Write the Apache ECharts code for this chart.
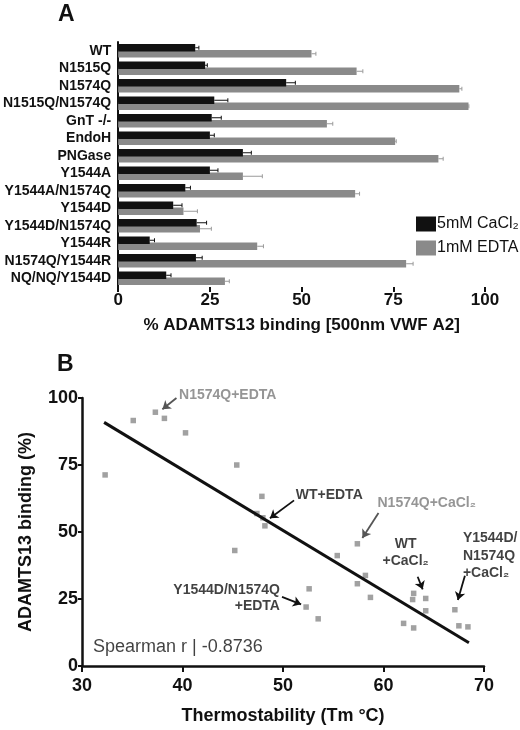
<html>

<head>
    <meta charset="utf-8">
    <title>ADAMTS13 binding</title>
    <script src="https://cdn.jsdelivr.net/npm/echarts@6/dist/echarts.min.js"></script>
    <style>
        body { margin: 0; background: #fff; }
    </style>
</head>

<body>
    <div id="main" style="width: 520px;height:730px;"></div>
    <script type="text/javascript">

        // panel A - binding per variant
        var categories = ['WT', 'N1515Q', 'N1574Q', 'N1515Q/N1574Q', 'GnT -/-', 'EndoH', 'PNGase', 'Y1544A',
            'Y1544A/N1574Q', 'Y1544D', 'Y1544D/N1574Q', 'Y1544R', 'N1574Q/Y1544R', 'NQ/NQ/Y1544D'];
        var cacl2Mean = [21.0, 23.7, 45.8, 26.2, 25.5, 25.0, 34.0, 25.0, 18.3, 15.0, 21.4, 8.6, 21.2, 13.1];
        var cacl2Upper = [22.0, 24.3, 48.3, 29.9, 28.1, 26.2, 36.3, 27.2, 19.7, 17.4, 24.1, 9.9, 22.9, 14.4];
        var edtaMean = [52.7, 65.0, 93.0, 95.5, 56.9, 75.5, 87.3, 34.0, 64.6, 17.8, 22.3, 37.9, 78.5, 29.1];
        var edtaUpper = [53.9, 66.7, 93.7, 95.6, 58.5, 75.8, 88.6, 39.3, 65.8, 21.6, 25.4, 39.6, 80.4, 30.3];
        var xTicksA = [0, 25, 50, 75, 100];

        // panel B - binding vs Tm
        var tmValues = [32.3, 35.1, 37.3, 38.2, 40.3, 45.4, 47.9, 47.4, 48.0, 48.2, 57.4, 45.2, 55.4, 58.2,
            57.4, 58.7, 52.6, 52.3, 53.5, 63.0, 62.9, 64.2, 64.2, 62.0, 63.0, 67.1, 67.5, 68.4];
        var bindValues = [71.3, 91.6, 94.7, 92.4, 87.0, 75.0, 63.3, 56.9, 55.3, 52.3, 45.6, 43.1, 41.2, 33.8,
            30.7, 25.6, 28.8, 22.0, 17.6, 27.1, 24.8, 25.2, 20.6, 15.9, 14.2, 21.0, 15.0, 14.6];
        var fitX = [32.2, 68.5];
        var fitY = [90.9, 8.7];

        // annotations: text, anchor (data units), colour, alignment
        var noteText = ['N1574Q+EDTA', 'WT+EDTA', 'N1574Q+CaCl₂', 'WT\n+CaCl₂', 'Y1544D/\nN1574Q\n+CaCl₂', 'Y1544D/N1574Q\n+EDTA', 'Spearman r | -0.8736'];
        var noteX = [44.5, 54.6, 64.3, 62.2, 67.9, 49.7, 31.1];
        var noteY = [101.0, 63.7, 60.6, 42.3, 41.1, 25.4, 6.9];
        var noteColor = ['#7a7a7a', '#111', '#7a7a7a', '#111', '#111', '#111', '#111'];
        var noteAlign = ['center', 'center', 'center', 'center', 'left', 'right', 'left'];
        var arrowFrom = [[39.4, 100.0], [51.1, 61.8], [59.5, 57.1], [63.4, 33.3], [68.1, 33.7], [49.9, 25.8]];
        var arrowTo = [[38.0, 95.8], [48.7, 55.1], [57.9, 47.8], [63.9, 28.6], [67.4, 24.6], [51.8, 23.0]];
        var arrowColor = ['#555', '#111', '#555', '#111', '#111', '#111'];

        var font = 'Liberation Sans, Arial, sans-serif';
        var myChart = echarts.init(document.getElementById('main'));

        function errBar(offset, color) {
            return function (params, api) {
                var c = api.coord([api.value(1), api.value(0)]);
                var e = api.coord([api.value(2), api.value(0)]);
                var y = c[1] + offset;
                return {
                    type: 'group',
                    children: [
                        { type: 'line', shape: { x1: c[0], y1: y, x2: e[0], y2: y }, style: { stroke: color, lineWidth: 1 } },
                        { type: 'line', shape: { x1: e[0], y1: y - 2, x2: e[0], y2: y + 2 }, style: { stroke: color, lineWidth: 1 } }
                    ]
                };
            };
        }

        var cacl2Err = categories.map(function (c, i) { return [i, cacl2Mean[i], cacl2Upper[i]]; });
        var edtaErr = categories.map(function (c, i) { return [i, edtaMean[i], edtaUpper[i]]; });
        var points = tmValues.map(function (t, i) { return [t, bindValues[i]]; });
        var notes = noteText.map(function (t, i) {
            var fs = i === 6 ? 18 : 14;
            return {
                value: [noteX[i], noteY[i]],
                label: {
                    formatter: t, color: noteColor[i], align: noteAlign[i],
                    fontWeight: i === 6 ? 'normal' : 'bold', fontSize: fs,
                    lineHeight: i === 5 ? 16 : 17.5
                }
            };
        });
        var arrows = arrowFrom.map(function (f, i) {
            return { coords: [f, arrowTo[i]], lineStyle: { color: arrowColor[i] } };
        });

        var axisLineStyle = { color: '#111', width: 2 };

        option = {
            animation: false,
            textStyle: { fontFamily: font },
            graphic: [
                { type: 'text', left: 58, top: 3, style: { text: 'A', font: 'bold 23px ' + font, fill: '#111' } },
                { type: 'text', left: 57, top: 353, style: { text: 'B', font: 'bold 23px ' + font, fill: '#111' } }
            ],
            legend: {
                data: ['5mM CaCl₂', '1mM EDTA'],
                orient: 'vertical',
                left: 411, top: 211,
                itemWidth: 20, itemHeight: 15, itemGap: 8,
                icon: 'rect',
                textStyle: { fontSize: 16, color: '#111', padding: [0, 0, 0, -4], fontFamily: font }
            },
            grid: [
                { left: 115, top: 42, width: 370, height: 245 },
                { left: 82, top: 398, width: 402, height: 268 }
            ],
            xAxis: [
                {
                    gridIndex: 0, type: 'value', min: xTicksA[0], max: xTicksA[xTicksA.length - 1], interval: 25,
                    name: '% ADAMTS13 binding [500nm VWF A2]', nameLocation: 'middle', nameGap: 30,
                    nameTextStyle: { fontSize: 17, fontWeight: 'bold', color: '#111' },
                    axisLine: { lineStyle: axisLineStyle },
                    axisTick: { show: true, length: 5, lineStyle: { width: 2, color: '#111' } },
                    axisLabel: { fontSize: 17, fontWeight: 'bold', color: '#111', margin: 5 },
                    splitLine: { show: false }
                },
                {
                    gridIndex: 1, type: 'value', min: 30, max: 70, interval: 10,
                    name: 'Thermostability (Tm °C)', nameLocation: 'middle', nameGap: 41,
                    nameTextStyle: { fontSize: 18, fontWeight: 'bold', color: '#111' },
                    axisLine: { lineStyle: { color: '#111', width: 2.5 } },
                    axisTick: { show: true, length: 6, lineStyle: { width: 2, color: '#111' } },
                    axisLabel: { fontSize: 18, fontWeight: 'bold', color: '#111', margin: 11 },
                    splitLine: { show: false }
                }
            ],
            yAxis: [
                {
                    gridIndex: 0, type: 'category', inverse: true, data: categories,
                    axisLine: { lineStyle: axisLineStyle },
                    axisTick: { alignWithLabel: true, interval: 0, length: 5, lineStyle: { width: 1.5, color: '#111' } },
                    axisLabel: { interval: 0, fontSize: 14, fontWeight: 'bold', color: '#111', margin: 7 }
                },
                {
                    gridIndex: 1, type: 'value', min: 0, max: 100, interval: 25,
                    name: 'ADAMTS13 binding (%)', nameLocation: 'middle', nameGap: 47,
                    nameTextStyle: { fontSize: 18, fontWeight: 'bold', color: '#111' },
                    axisLine: { show: true, lineStyle: { color: '#111', width: 2.5 } },
                    axisTick: { show: true, length: 4, lineStyle: { width: 2, color: '#111' } },
                    axisLabel: { fontSize: 18, fontWeight: 'bold', color: '#111', margin: 4 },
                    splitLine: { show: false }
                }
            ],
            series: [
                {
                    name: '5mM CaCl₂', type: 'bar', xAxisIndex: 0, yAxisIndex: 0,
                    data: cacl2Mean, barWidth: 7.5, barGap: '-20%', z: 3,
                    itemStyle: { color: '#111' }
                },
                {
                    name: '1mM EDTA', type: 'bar', xAxisIndex: 0, yAxisIndex: 0,
                    data: edtaMean, barWidth: 7.5, z: 2,
                    itemStyle: { color: '#8a8a8a' }
                },
                {
                    type: 'custom', xAxisIndex: 0, yAxisIndex: 0, z: 4,
                    renderItem: errBar(-3, '#111'), encode: { y: 0, x: [1, 2] }, data: cacl2Err
                },
                {
                    type: 'custom', xAxisIndex: 0, yAxisIndex: 0, z: 4,
                    renderItem: errBar(3, '#9a9a9a'), encode: { y: 0, x: [1, 2] }, data: edtaErr
                },
                {
                    type: 'scatter', xAxisIndex: 1, yAxisIndex: 1,
                    symbol: 'rect', symbolSize: 5.5, data: points,
                    itemStyle: { color: '#8a8a8a' }
                },
                {
                    type: 'line', xAxisIndex: 1, yAxisIndex: 1,
                    data: fitX.map(function (x, i) { return [x, fitY[i]]; }),
                    symbol: 'none', lineStyle: { color: '#111', width: 3 }, z: 3
                },
                {
                    type: 'lines', coordinateSystem: 'cartesian2d', xAxisIndex: 1, yAxisIndex: 1,
                    symbol: ['none', 'arrow'], symbolSize: 8,
                    lineStyle: { width: 1.8, opacity: 1 }, data: arrows, z: 4
                },
                {
                    type: 'scatter', xAxisIndex: 1, yAxisIndex: 1, clip: false,
                    symbolSize: 0, data: notes, silent: true, z: 5,
                    label: { show: true, position: 'inside', fontFamily: font }
                }
            ]
        };

        myChart.setOption(option);
    </script>
</body>

</html>
